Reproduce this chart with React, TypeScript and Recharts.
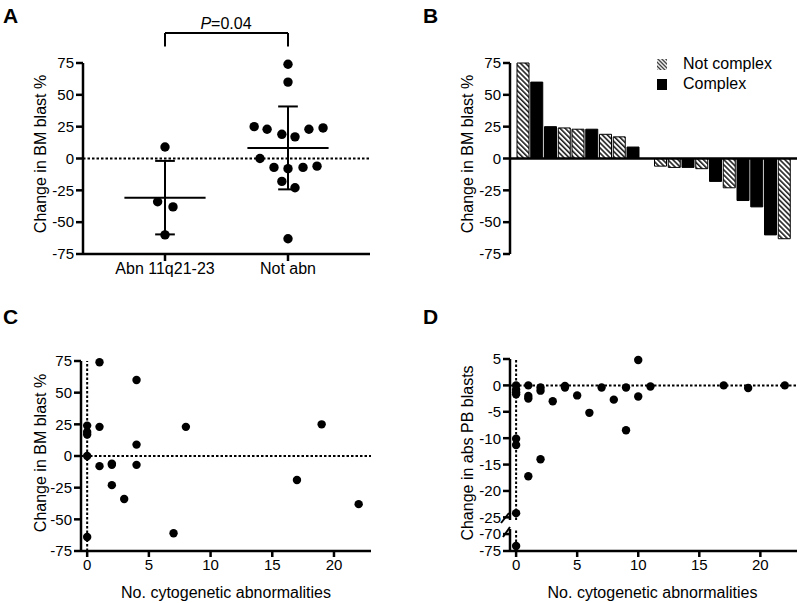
import React from 'react'
import { ScatterChart, Scatter, XAxis, YAxis, ReferenceLine, BarChart, Bar, Cell } from 'recharts'

const FONT = '"Liberation Sans", Arial, Helvetica, sans-serif'

// Panel A - dot plot by group (x = group position incl. jitter)
const groupNames = ['Abn 11q21-23', 'Not abn']
const abnX = [1, 0.94, 1.065, 1]
const abnY = [9, -34, -38, -60]
const notAbnX = [2, 2, 1.725, 1.83, 1.95, 2.057, 2.17, 2.285, 1.772, 1.886, 2, 2.122, 2.236, 1.95, 2.057, 2]
const notAbnY = [74, 60, 25, 23, 19, 17, 23, 24, 0, -7, -8, -7, -6, -18, -23, -63]
const pValue = '0.04'

// Panel B - waterfall
const waterfallValues = [75, 60, 25, 24, 23, 23, 19, 17, 9, 0, -6, -7, -7, -8, -18, -23, -33, -38, -60, -63]
const waterfallComplex = [0, 1, 1, 0, 0, 1, 0, 0, 1, 0, 0, 0, 1, 0, 1, 0, 1, 1, 1, 0]
const legendItems = ['Not complex', 'Complex']

// Panel C - BM blast change vs no. of abnormalities
const cX = [0, 0, 0, 0, 0, 1, 1, 1, 2, 2, 2, 3, 4, 4, 4, 7, 8, 17, 19, 22]
const cY = [24, 19, 17, 0, -64, 74, 23, -8, -6, -7, -23, -34, 60, 9, -7, -61, 23, -19, 25, -38]

// Panel D - abs PB blast change vs no. of abnormalities
const dX = [0, 0, 0, 0, 0, 0, 0, 0, 1, 1, 1, 1, 2, 2, 2, 3, 4, 4, 5, 6, 7, 8, 9, 9, 10, 10, 11, 17, 19, 22]
const dY = [0, -0.8, -1.3, -1.7, -10.1, -11.3, -24.2, -73.5, 0, -2, -2.5, -17.2, -0.4, -1, -14, -3, -0.1, -0.4, -1.9, -5.2, -0.4, -2.7, -0.4, -8.5, 4.8, -2.1, -0.2, 0, -0.5, 0]

const bmTicks = [-75, -50, -25, 0, 25, 50, 75]
const countTicks = [0, 5, 10, 15, 20]
const pbUpperTicks = [-25, -20, -15, -10, -5, 0, 5]
const pbLowerTicks = [-75, -70]

const zip = (xs: number[], ys: number[]) => xs.map((x, i) => ({ x, y: ys[i] }))
const mean = (a: number[]) => a.reduce((s, v) => s + v, 0) / a.length
const sd = (a: number[]) => {
  const m = mean(a)
  return Math.sqrt(a.reduce((s, v) => s + (v - m) ** 2, 0) / (a.length - 1))
}

const axisLine = { stroke: '#000', strokeWidth: 2.5 }
const tickStyle = { fontSize: 15, fill: '#000' }
const dotted = { stroke: '#000', strokeWidth: 2, strokeDasharray: '2.5 2' }

const dot = (r: number) => (props: any) => <circle cx={props.cx} cy={props.cy} r={r} fill="#000" />

// mean line + SD whiskers for one group
function meanSd(values: number[], g: number) {
  const m = mean(values)
  const s = sd(values)
  const line = { stroke: '#000', strokeWidth: 2 }
  return [
    <ReferenceLine key={'m' + g} segment={[{ x: g - 0.33, y: m }, { x: g + 0.33, y: m }]} {...line} />,
    <ReferenceLine key={'v' + g} segment={[{ x: g, y: m - s }, { x: g, y: m + s }]} {...line} />,
    <ReferenceLine key={'t' + g} segment={[{ x: g - 0.08, y: m + s }, { x: g + 0.08, y: m + s }]} {...line} />,
    <ReferenceLine key={'b' + g} segment={[{ x: g - 0.08, y: m - s }, { x: g + 0.08, y: m - s }]} {...line} />,
  ]
}

function Text({ x, y, children, size = 16, rotate = false, weight = 400 }: any) {
  return (
    <div
      style={{
        position: 'absolute', left: x, top: y, whiteSpace: 'nowrap', fontSize: size, fontWeight: weight,
        lineHeight: 1, transform: 'translate(-50%,-50%)' + (rotate ? ' rotate(-90deg)' : ''),
      }}
    >
      {children}
    </div>
  )
}

function Letter({ x, y, children }: any) {
  return (
    <div style={{ position: 'absolute', left: x, top: y, fontSize: 21, fontWeight: 700, lineHeight: 1 }}>{children}</div>
  )
}

function Hatch({ id, step }: { id: string; step: number }) {
  return (
    <pattern id={id} patternUnits="userSpaceOnUse" width={step} height={step} patternTransform="rotate(-45)">
      <rect width={step} height={step} fill="#fff" />
      <rect width={step * 0.45} height={step} fill="#222" />
    </pattern>
  )
}

export default function App() {
  const bData = waterfallValues.map((v, i) => ({ i, v, complex: waterfallComplex[i] }))
  const upper = zip(dX, dY).filter(p => p.y > -30)
  const lower = zip(dX, dY).filter(p => p.y < -60)

  return (
    <div style={{ position: 'absolute', left: 0, top: 0, width: 800, height: 603, background: '#fff', fontFamily: FONT, color: '#000' }}>
      {/* A */}
      <div style={{ position: 'absolute', left: 0, top: 0 }}>
        <ScatterChart width={400} height={300} margin={{ top: 63, right: 30, bottom: 16, left: 23 }}>
          <XAxis type="number" dataKey="x" domain={[1 / 3, 8 / 3]} ticks={[1, 2]} interval={0}
            tickFormatter={(v: number) => groupNames[v - 1]} height={30} tickSize={7}
            axisLine={axisLine} tickLine={axisLine} tick={{ fontSize: 16, fill: '#000' }} />
          <YAxis type="number" dataKey="y" domain={[-75, 75]} ticks={bmTicks} interval={0} width={60}
            tickSize={7} axisLine={axisLine} tickLine={axisLine} tick={tickStyle} />
          <ReferenceLine y={0} {...dotted} />
          <ReferenceLine segment={[{ x: 1, y: 98.5 }, { x: 2, y: 98.5 }]} ifOverflow="visible" stroke="#000" strokeWidth={2} />
          <ReferenceLine segment={[{ x: 1, y: 98.5 }, { x: 1, y: 88 }]} ifOverflow="visible" stroke="#000" strokeWidth={2} />
          <ReferenceLine segment={[{ x: 2, y: 98.5 }, { x: 2, y: 88 }]} ifOverflow="visible" stroke="#000" strokeWidth={2} />
          {meanSd(abnY, 1)}
          {meanSd(notAbnY, 2)}
          <Scatter data={zip(abnX, abnY)} shape={dot(4.7)} isAnimationActive={false} />
          <Scatter data={zip(notAbnX, notAbnY)} shape={dot(4.7)} isAnimationActive={false} />
        </ScatterChart>
      </div>

      {/* B */}
      <div style={{ position: 'absolute', left: 400, top: 0 }}>
        <BarChart width={400} height={300} data={bData} margin={{ top: 63, right: 3, bottom: 46, left: 50 }} barSize={12}>
          <defs>
            <Hatch id="hatch" step={3.6} />
          </defs>
          <XAxis dataKey="i" hide padding={{ left: 6, right: 6 }} />
          <YAxis domain={[-75, 75]} ticks={bmTicks} interval={0} width={60}
            tickSize={7} axisLine={axisLine} tickLine={axisLine} tick={tickStyle} />
          <Bar dataKey="v" stroke="#000" strokeWidth={1} isAnimationActive={false}>
            {bData.map(d => <Cell key={d.i} fill={d.complex ? '#000' : 'url(#hatch)'} />)}
          </Bar>
          <ReferenceLine y={0} stroke="#000" strokeWidth={2.5} />
        </BarChart>
      </div>
      <div style={{ position: 'absolute', left: 657, top: 54, fontSize: 16 }}>
        {legendItems.map((name, i) => (
          <div key={name} style={{ display: 'flex', alignItems: 'center', height: 20 }}>
            <svg width={10} height={11} style={{ display: 'block' }}>
              <defs><Hatch id="hatchLegend" step={2.8} /></defs>
              <rect width={10} height={11} fill={i === 0 ? 'url(#hatchLegend)' : '#000'} />
            </svg>
            <span style={{ marginLeft: 16 }}>{name}</span>
          </div>
        ))}
      </div>

      {/* C */}
      <div style={{ position: 'absolute', left: 0, top: 300 }}>
        <ScatterChart width={400} height={303} margin={{ top: 61, right: 29, bottom: 22, left: 21 }}>
          <XAxis type="number" dataKey="x" domain={[-0.5, 23]} ticks={countTicks} interval={0} height={30}
            tickSize={6} axisLine={axisLine} tickLine={axisLine} tick={tickStyle} />
          <YAxis type="number" dataKey="y" domain={[-75, 75]} ticks={bmTicks} interval={0} width={60}
            tickSize={7} axisLine={axisLine} tickLine={axisLine} tick={tickStyle} />
          <ReferenceLine y={0} {...dotted} />
          <ReferenceLine x={0} {...dotted} />
          <Scatter data={zip(cX, cY)} shape={dot(4.2)} isAnimationActive={false} />
        </ScatterChart>
      </div>

      {/* D upper segment */}
      <div style={{ position: 'absolute', left: 400, top: 300 }}>
        <ScatterChart width={400} height={225} margin={{ top: 59, right: 3, bottom: 5, left: 50 }}>
          <XAxis type="number" dataKey="x" domain={[-0.5, 23]} hide />
          <YAxis type="number" dataKey="y" domain={[-25.5, 5]} ticks={pbUpperTicks} interval={0} width={60}
            tickSize={7} axisLine={axisLine} tickLine={axisLine} tick={tickStyle} />
          <ReferenceLine y={0} {...dotted} />
          <ReferenceLine x={0} {...dotted} />
          <Scatter data={upper} shape={dot(4.2)} isAnimationActive={false} />
        </ScatterChart>
      </div>
      {/* D lower segment */}
      <div style={{ position: 'absolute', left: 400, top: 520 }}>
        <ScatterChart width={400} height={83} margin={{ top: 9, right: 3, bottom: 22, left: 50 }}>
          <XAxis type="number" dataKey="x" domain={[-0.5, 23]} ticks={countTicks} interval={0} height={30}
            tickSize={6} axisLine={axisLine} tickLine={axisLine} tick={tickStyle} />
          <YAxis type="number" dataKey="y" domain={[-75, -68.5]} ticks={pbLowerTicks} interval={0} width={60}
            tickSize={7} axisLine={axisLine} tickLine={axisLine} tick={tickStyle} />
          <ReferenceLine x={0} {...dotted} />
          <Scatter data={lower} shape={dot(4.2)} isAnimationActive={false} />
        </ScatterChart>
      </div>
      <svg width={20} height={30} style={{ position: 'absolute', left: 498, top: 510 }}>
        <line x1={3} y1={13} x2={11} y2={3} stroke="#000" strokeWidth={2} />
        <line x1={5} y1={27} x2={12} y2={17} stroke="#000" strokeWidth={2} />
      </svg>

      {/* titles */}
      <Letter x={3} y={5}>A</Letter>
      <Letter x={423} y={5}>B</Letter>
      <Letter x={3} y={306}>C</Letter>
      <Letter x={423} y={306}>D</Letter>
      <Text x={226} y={24}><i>P</i>={pValue}</Text>
      <Text x={40.5} y={154} rotate>Change in BM blast %</Text>
      <Text x={467.5} y={154} rotate>Change in BM blast %</Text>
      <Text x={40.5} y={453} rotate>Change in BM blast %</Text>
      <Text x={467.5} y={453} rotate>Change in abs PB blasts</Text>
      <Text x={226} y={593}>No. cytogenetic abnormalities</Text>
      <Text x={652.5} y={593}>No. cytogenetic abnormalities</Text>
    </div>
  )
}
